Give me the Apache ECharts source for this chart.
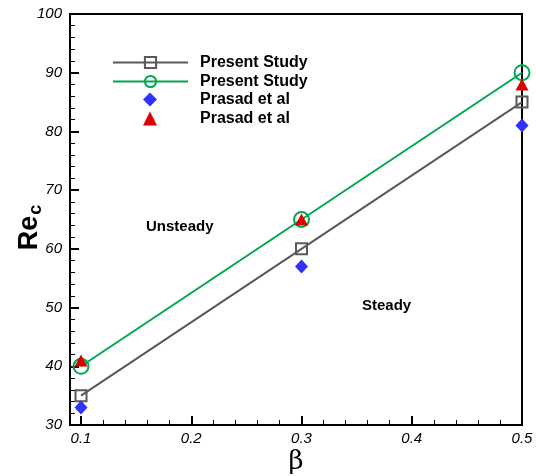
<!DOCTYPE html>
<html><head><meta charset="utf-8">
<script src="https://cdn.jsdelivr.net/npm/echarts@6/dist/echarts.min.js"></script>
<style>html,body{margin:0;padding:0;background:#fff}#c{width:536px;height:476px}</style>
</head><body><div id="c"></div>
<script>
const beta = [0.1, 0.3, 0.5];
const presentSquare = [35, 60, 85];
const presentCircle = [40, 65, 90];
const prasadDiamond = [33, 57, 81];
const prasadTriangle = [41, 65, 88];
const legendNames = ['Present Study', 'Present Study\u200b', 'Prasad et al', 'Prasad et al\u200b'];
const xTicks = [0.1, 0.2, 0.3, 0.4, 0.5];

const pairs = v => beta.map((b, i) => [b, v[i]]);
const chart = echarts.init(document.getElementById('c'));
const F = 'Liberation Sans, Arial, sans-serif';
const legText = pad => ({fontFamily: F, fontWeight: 'bold', fontSize: 16, lineHeight: 19, color: '#000', padding: [0, 0, 0, pad]});
const frame = {show: true, lineStyle: {color: '#000', width: 2}};
chart.setOption({
  animation: false,
  grid: {left: 70, right: 14, top: 14, bottom: 51, containLabel: false, outerBoundsMode: 'none'},
  legend: [{
    orient: 'vertical', left: 112, top: 53, padding: 0, itemWidth: 75, itemHeight: 14, itemGap: 0,
    data: legendNames.slice(0, 2),
    formatter: n => n.replace('\u200b', ''),
    textStyle: legText(7)
  }, {
    orient: 'vertical', left: 143, top: 90, padding: 0, itemWidth: 14, itemHeight: 14, itemGap: 0,
    data: legendNames.slice(2),
    formatter: n => n.replace('\u200b', ''),
    textStyle: legText(38)
  }],
  xAxis: [{
    type: 'value', min: 0.09, max: 0.5,
    name: 'β', nameLocation: 'middle', nameGap: 24, nameMoveOverlap: false,
    nameTextStyle: {fontFamily: 'DejaVu Serif, serif', fontSize: 26, color: '#000'},
    axisLine: frame,
    axisTick: {show: true, inside: true, length: 9, lineStyle: {color: '#000', width: 2}, customValues: xTicks},
    minorTick: {show: true, splitNumber: 5, length: 5, lineStyle: {color: '#000', width: 1}},
    splitLine: {show: false},
    axisLabel: {fontFamily: F, fontStyle: 'italic', fontSize: 15, color: '#000', margin: 6,
      formatter: v => v.toFixed(1), customValues: xTicks}
  }, {
    type: 'value', position: 'top', min: 0.09, max: 0.5,
    axisLine: frame, axisTick: {show: false}, axisLabel: {show: false}, splitLine: {show: false}
  }],
  yAxis: [{
    type: 'value', min: 30, max: 100, interval: 10,
    name: '{a|Re}{b|c}', nameLocation: 'middle', nameGap: 25, nameRotate: 90, nameMoveOverlap: false,
    nameTextStyle: {padding: [0, 16, 0, 0], rich: {
      a: {fontFamily: F, fontWeight: 'bold', fontSize: 27, color: '#000'},
      b: {fontFamily: F, fontWeight: 'bold', fontSize: 18, color: '#000', padding: [12, 0, 0, 1]}
    }},
    axisLine: frame,
    axisTick: {show: true, inside: true, length: 9, lineStyle: {color: '#000', width: 2}},
    minorTick: {show: true, splitNumber: 5, length: 5, lineStyle: {color: '#000', width: 1}},
    splitLine: {show: false},
    axisLabel: {fontFamily: F, fontStyle: 'italic', fontSize: 15, color: '#000', margin: 8}
  }, {
    type: 'value', position: 'right', min: 30, max: 100,
    axisLine: frame, axisTick: {show: false}, axisLabel: {show: false}, splitLine: {show: false}
  }],
  series: [
    {name: legendNames[0], type: 'line', data: pairs(presentSquare), symbol: 'rect', symbolSize: 11,
     lineStyle: {color: '#595959', width: 2}, itemStyle: {color: 'rgba(255,255,255,0)', borderColor: '#595959', borderWidth: 2}, color: '#595959', z: 3},
    {name: legendNames[1], type: 'line', data: pairs(presentCircle), symbol: 'circle', symbolSize: 15,
     lineStyle: {color: '#00a651', width: 2}, itemStyle: {color: 'rgba(255,255,255,0)', borderColor: '#00a651', borderWidth: 2}, color: '#00a651', z: 3},
    {name: legendNames[2], type: 'scatter', data: pairs(prasadDiamond), symbol: 'diamond', symbolSize: [13, 14],
     itemStyle: {color: '#3030ff', opacity: 1}, z: 4},
    {name: legendNames[3], type: 'scatter', data: pairs(prasadTriangle), symbol: 'triangle', symbolSize: [13, 12],
     itemStyle: {color: '#dd0000', opacity: 1}, z: 4}
  ],
  graphic: [
    {type: 'text', left: 146, top: 219, style: {text: 'Unsteady', font: 'bold 15px ' + F, fill: '#000'}},
    {type: 'text', left: 362, top: 298, style: {text: 'Steady', font: 'bold 15px ' + F, fill: '#000'}}
  ]
});
</script></body></html>
